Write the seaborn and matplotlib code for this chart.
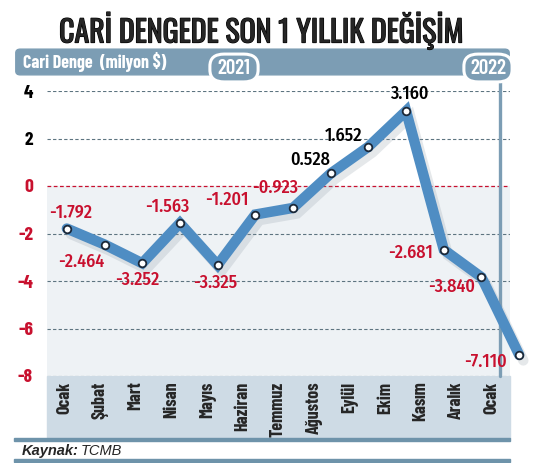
import matplotlib
matplotlib.use('Agg')
import matplotlib.pyplot as plt
import matplotlib.patheffects as pe
from matplotlib.patches import Rectangle, FancyBboxPatch
import seaborn as sns
import pandas as pd

# data
months = ['Ocak', 'Şubat', 'Mart', 'Nisan', 'Mayıs', 'Haziran', 'Temmuz',
          'Ağustos', 'Eylül', 'Ekim', 'Kasım', 'Aralık', 'Ocak']
values = [-1.792, -2.464, -3.252, -1.563, -3.325, -1.201, -0.923,
          0.528, 1.652, 3.160, -2.681, -3.840, -7.110]
labels = ['-1.792', '-2.464', '-3.252', '-1.563', '-3.325', '-1.201', '-0.923',
          '0.528', '1.652', '3.160', '-2.681', '-3.840', '-7.110']
yticks = [-8, -6, -4, -2, 0, 2, 4]

# label offsets in pixels (dx, dy) relative to point
offsets = [(4, 16), (-23, -17), (-5, -17), (-13, 16), (-2, -18), (-28, 15), (-18, 20),
           (-21, 14), (-25, 11), (3, 17), (-33, -3), (-30, -10), (-34, -7)]

RED = '#c8102e'
SLATE = '#7c9db4'
BLUE = '#4f8dc3'
W, H = 551, 463

df = pd.DataFrame({'x': range(len(values)), 'y': values})

sns.set_style('white')
plt.rcParams['font.family'] = ['Barlow Condensed', 'DejaVu Sans']

fig = plt.figure(figsize=(W / 100, H / 100), dpi=100)


def fx(x):
    return x / W


def fy(y):
    return 1 - y / H


# plot frame: x 47..510, y 91 (4) .. 376 (-8)
ax = fig.add_axes([fx(47), fy(376), fx(510) - fx(47), fy(91) - fy(376)])
ax.set_xlim(-0.5, 12.5)
ax.set_ylim(-8, 4)
ax.axhspan(-8, 0, color='#eef2f5', zorder=0)
for v in yticks:
    if v == 0:
        ax.axhline(v, color=RED, lw=0.9, ls=(0, (3, 2)), zorder=1)
    else:
        ax.axhline(v, color='#5d7480', lw=0.8, ls=(0, (3, 2)), zorder=1)
ax.set_yticks(yticks)
ax.set_yticklabels([str(v) for v in yticks], fontsize=14, fontweight='bold')
for t, v in zip(ax.get_yticklabels(), yticks):
    t.set_color('black' if v > 0 else RED)
ax.set_xticks(range(len(months)))
ax.set_xticklabels(months, rotation=90, va='top', fontsize=13, fontweight='bold')
ax.set_xticks([i - 0.5 for i in range(len(months) + 1)], minor=True)
ax.tick_params(axis='both', which='major', length=0)
ax.tick_params(axis='y', pad=10)
ax.tick_params(axis='x', pad=4)
ax.tick_params(axis='x', which='minor', direction='in', length=8, width=1.2, color='#5d7480')
for s in ax.spines.values():
    s.set_visible(False)
ax.patch.set_alpha(0)

# line axes (slightly wider spacing than the labels, as in the original)
ax2 = fig.add_axes([fx(48), fy(376), fx(538) - fx(48), fy(91) - fy(376)])
ax2.set_xlim(-0.5, 12.5)
ax2.set_ylim(-8, 4)
ax2.axis('off')
ax2.axvline(11.5, ymin=0, ymax=1.06, color=SLATE, lw=2.4, clip_on=False, zorder=1)
sns.lineplot(data=df, x='x', y='y', ax=ax2, color=BLUE, lw=7.5, zorder=3,
             solid_joinstyle='miter', legend=False)
ax2.lines[-1].set_clip_on(False)
ax2.lines[-1].set_path_effects([pe.SimpleLineShadow(offset=(3, -4), shadow_color='#8a97a3', alpha=0.22),
                                pe.Normal()])
sns.scatterplot(data=df, x='x', y='y', ax=ax2, s=30, color='white', edgecolor='#1b2838',
                linewidth=1.3, zorder=4, clip_on=False, legend=False)
for i, (v, lab) in enumerate(zip(values, labels)):
    dx, dy = offsets[i]
    ax2.annotate(lab, (i, v), xytext=(dx, dy), textcoords='offset pixels',
                 ha='center', va='center', fontsize=13, fontweight='medium',
                 family=['Fira Sans Condensed', 'Barlow Condensed', 'DejaVu Sans'],
                 color='black' if v > 0 else RED, zorder=5, annotation_clip=False)

# x label band
fig.patches.append(Rectangle((fx(47), fy(438)), fx(510) - fx(47), fy(376) - fy(438),
                             transform=fig.transFigure, color='#cedbe5', zorder=-1))

# header band
fig.patches.append(FancyBboxPatch((fx(18), fy(73)), fx(507) - fx(18), fy(51) - fy(73),
                                  boxstyle='round,pad=0.004,rounding_size=0.008',
                                  transform=fig.transFigure, color=SLATE, zorder=1))
fig.text(fx(23), fy(62), 'Cari Denge  (milyon $)', color='white', fontsize=13,
         fontweight='bold', va='center', ha='left', zorder=2)
for cx, yr in [(234, '2021'), (488, '2022')]:
    fig.patches.append(FancyBboxPatch((fx(cx - 23), fy(81)), fx(46), fy(55) - fy(81),
                                      boxstyle='round,pad=0.002,rounding_size=0.026',
                                      transform=fig.transFigure, facecolor=SLATE,
                                      edgecolor='white', lw=2.2, zorder=3))
    fig.text(fx(cx), fy(69), yr, color='white', fontsize=15, ha='center', va='center',
             fontweight='semibold', zorder=4)

# title
fig.text(fx(261), fy(30), 'CARİ DENGEDE SON 1 YILLIK DEĞİŞİM', fontsize=21.5,
         ha='center', va='center', family=['Oswald', 'Barlow Condensed', 'DejaVu Sans'],
         path_effects=[pe.withStroke(linewidth=0.9, foreground='black')])

# source
fig.patches.append(Rectangle((fx(14), fy(441)), fx(510) - fx(14), 3 / H,
                             transform=fig.transFigure, color='#6e93aa'))
fig.patches.append(Rectangle((fx(14), fy(462)), fx(510) - fx(14), 3 / H,
                             transform=fig.transFigure, color='#6e93aa'))
fig.text(fx(22), fy(451), 'Kaynak:', fontsize=10.5, fontweight='bold', style='italic',
         ha='left', va='center', family=['Liberation Sans', 'DejaVu Sans'])
fig.text(fx(81), fy(451), 'TCMB', fontsize=10.5, style='italic',
         ha='left', va='center', family=['Liberation Sans', 'DejaVu Sans'])

fig.savefig('out.png', dpi=100)
